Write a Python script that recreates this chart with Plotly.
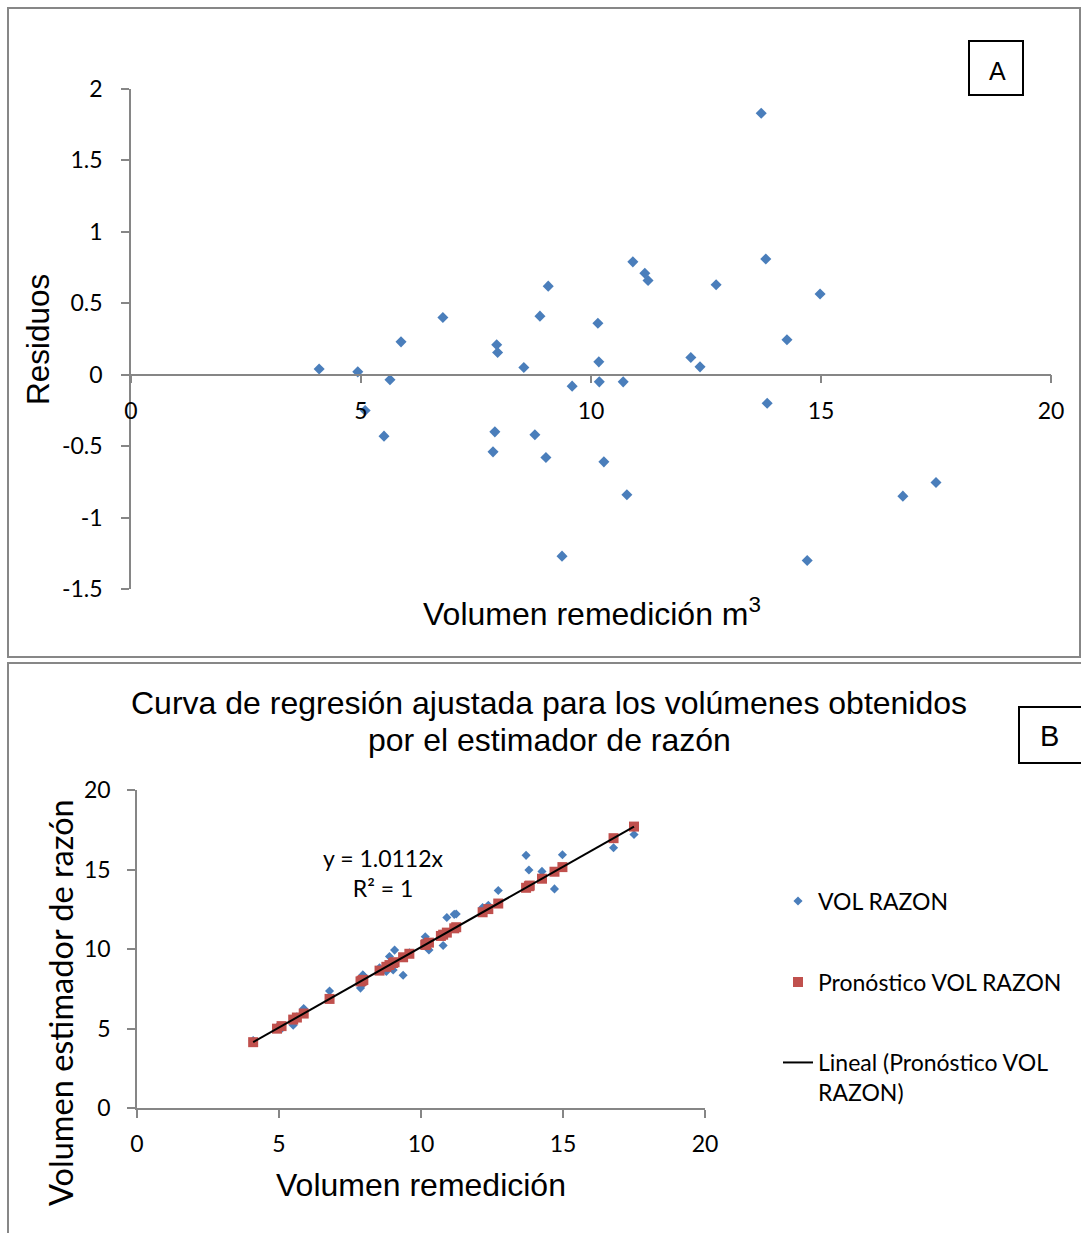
import plotly.graph_objects as go

W, H = 1081, 1233

# ---------------- data ----------------
remedicion = [4.09, 4.93, 5.09, 5.50, 5.63, 5.87, 6.78, 7.87, 7.91, 7.95,
              7.97, 8.54, 8.78, 8.89, 9.02, 9.07, 9.37, 9.59, 10.15, 10.17,
              10.18, 10.28, 10.70, 10.78, 10.91, 11.17, 11.24, 12.17, 12.37, 12.72,
              13.70, 13.80, 13.83, 14.26, 14.70, 14.98, 16.78, 17.50]

residuos = [0.04, 0.02, -0.25, -0.43, -0.035, 0.23, 0.40, -0.54, -0.40, 0.21,
            0.155, 0.05, -0.42, 0.41, -0.58, 0.62, -1.27, -0.08, 0.36, 0.09,
            -0.05, -0.61, -0.05, -0.84, 0.79, 0.71, 0.66, 0.12, 0.055, 0.63,
            1.83, 0.81, -0.20, 0.245, -1.30, 0.565, -0.85, -0.755]

vol_razon = [4.24, 5.08, 4.98, 5.21, 5.74, 6.26, 7.36, 7.54, 7.72, 8.37,
             8.33, 8.82, 8.59, 9.53, 8.68, 9.93, 8.35, 9.76, 10.77, 10.52,
             10.39, 9.94, 10.93, 10.22, 11.98, 12.18, 12.20, 12.61, 12.75, 13.68,
             15.89, 14.97, 14.00, 14.88, 13.78, 15.93, 16.37, 17.20]

pronostico = [4.14, 4.99, 5.15, 5.56, 5.69, 5.94, 6.86, 7.96, 8.00, 8.04,
              8.06, 8.64, 8.88, 8.99, 9.12, 9.17, 9.48, 9.70, 10.26, 10.28,
              10.29, 10.40, 10.82, 10.90, 11.03, 11.30, 11.37, 12.31, 12.51, 12.86,
              13.85, 13.95, 13.99, 14.42, 14.86, 15.15, 16.97, 17.70]

tick_vals_x = [0, 5, 10, 15, 20]
tick_vals_res = [-1.5, -1, -0.5, 0, 0.5, 1, 1.5, 2]
tick_text_res = ["-1.5", "-1", "-0.5", "0", "0.5", "1", "1.5", "2"]
tick_vals_y2 = [0, 5, 10, 15, 20]

titulo_l1 = "Curva de regresión ajustada para los volúmenes obtenidos"
titulo_l2 = "por el estimador de razón"
ecuacion = "y = 1.0112x<br>R² = 1"

# ---------------- helpers ----------------
def px(x):
    return x / W

def py(y):
    return 1 - y / H

BLUE = "#4A7EBB"
RED = "#C0504D"
GREY = "#868686"
CAL = "Lato, 'Open Sans', sans-serif"
ARI = "'Liberation Sans', Arial, sans-serif"

fig = go.Figure()

# ---- panel A: residuals ----
fig.add_trace(go.Scatter(
    x=remedicion, y=residuos, mode="markers",
    marker=dict(symbol="diamond", size=8.5, color=BLUE),
    xaxis="x", yaxis="y", showlegend=False, cliponaxis=False))

# ---- panel B: regression ----
fig.add_trace(go.Scatter(
    x=remedicion, y=vol_razon, mode="markers", name="VOL RAZON",
    marker=dict(symbol="diamond", size=7, color=BLUE),
    xaxis="x2", yaxis="y2", legend="legend"))
fig.add_trace(go.Scatter(
    x=remedicion, y=pronostico, mode="markers", name="Pronóstico VOL RAZON",
    marker=dict(symbol="square", size=10, color=RED),
    xaxis="x2", yaxis="y2", legend="legend2"))
fig.add_trace(go.Scatter(
    x=[remedicion[0], remedicion[-1]], y=[pronostico[0], pronostico[-1]],
    mode="lines", name="Lineal (Pronóstico VOL<br>RAZON)",
    line=dict(color="black", width=2),
    xaxis="x2", yaxis="y2", legend="legend3"))

yA = [py(589), py(89)]
yrA = [-1.5, 2]
x_axis_pos = yA[0] + (0 - yrA[0]) / (yrA[1] - yrA[0]) * (yA[1] - yA[0])

axis_common = dict(showline=True, linecolor=GREY, linewidth=1.5, ticks="outside",
                   ticklen=8, tickcolor=GREY, tickwidth=1.5, showgrid=False,
                   zeroline=False, automargin=False,
                   tickfont=dict(family=CAL, size=23, color="black"))

leg_common = dict(xanchor="left", font=dict(family=CAL, size=23, color="black"),
                  bgcolor="rgba(0,0,0,0)", borderwidth=0)

fig.update_layout(
    template="none",
    width=W, height=H, margin=dict(l=0, r=0, t=0, b=0, pad=0, autoexpand=False),
    paper_bgcolor="white", plot_bgcolor="rgba(0,0,0,0)",
    xaxis=dict(domain=[px(131), px(1051)], range=[0, 20], tickvals=tick_vals_x,
               anchor="free", position=x_axis_pos, ticklabelstandoff=8, **axis_common),
    yaxis=dict(domain=yA, range=yrA, tickvals=tick_vals_res, ticktext=tick_text_res,
               anchor="x", ticklabelstandoff=14, **axis_common),
    xaxis2=dict(domain=[px(137), px(705)], range=[0, 20], tickvals=tick_vals_x,
                anchor="y2", ticklabelstandoff=7, **axis_common),
    yaxis2=dict(domain=[py(1108), py(790)], range=[0, 20], tickvals=tick_vals_y2,
                anchor="x2", ticklabelstandoff=12, **axis_common),
    legend=dict(x=px(778), y=py(901), yanchor="middle", **leg_common),
    legend2=dict(x=px(778), y=py(982), yanchor="middle", **leg_common),
    legend3=dict(x=px(778), y=py(1041), yanchor="top", valign="top", **leg_common),
)

# panel borders and label boxes
shapes = [
    dict(type="rect", xref="paper", yref="paper", x0=px(8), x1=px(1080), y0=py(657), y1=py(8),
         line=dict(color="#878787", width=2)),
    dict(type="rect", xref="paper", yref="paper", x0=px(8), x1=px(1090), y0=py(1245), y1=py(663),
         line=dict(color="#878787", width=2)),
    dict(type="rect", xref="paper", yref="paper", x0=px(969), x1=px(1023), y0=py(95), y1=py(41),
         line=dict(color="black", width=2)),
    dict(type="rect", xref="paper", yref="paper", x0=px(1019), x1=px(1095), y0=py(763), y1=py(707),
         line=dict(color="black", width=2)),
]
fig.update_layout(shapes=shapes)

ann = [
    dict(text="A", x=px(997), y=py(71), font=dict(family=ARI, size=25)),
    dict(text="B", x=px(1049), y=py(736), font=dict(family=ARI, size=29)),
    dict(text="Residuos", x=px(38), y=py(340), textangle=-90, font=dict(family=ARI, size=31.5)),
    dict(text="Volumen remedición m<sup>3</sup>", x=px(592), y=py(612), font=dict(family=ARI, size=32)),
    dict(text=titulo_l1, x=px(549), y=py(703), font=dict(family=ARI, size=32)),
    dict(text=titulo_l2, x=px(549), y=py(740), font=dict(family=ARI, size=32)),
    dict(text="Volumen estimador de razón", x=px(60), y=py(1003), textangle=-90,
         font=dict(family=CAL, size=32.5)),
    dict(text="Volumen remedición", x=px(421), y=py(1185), font=dict(family=ARI, size=32)),
    dict(text=ecuacion, x=px(383), y=py(873), font=dict(family=CAL, size=23)),
]
for a in ann:
    a.update(xref="paper", yref="paper", showarrow=False, xanchor="center", yanchor="middle")
    a["font"].setdefault("color", "black")
fig.update_layout(annotations=ann)

fig.write_html("out.html",
               post_script="document.body.style.margin='0';document.body.style.overflow='hidden';")
